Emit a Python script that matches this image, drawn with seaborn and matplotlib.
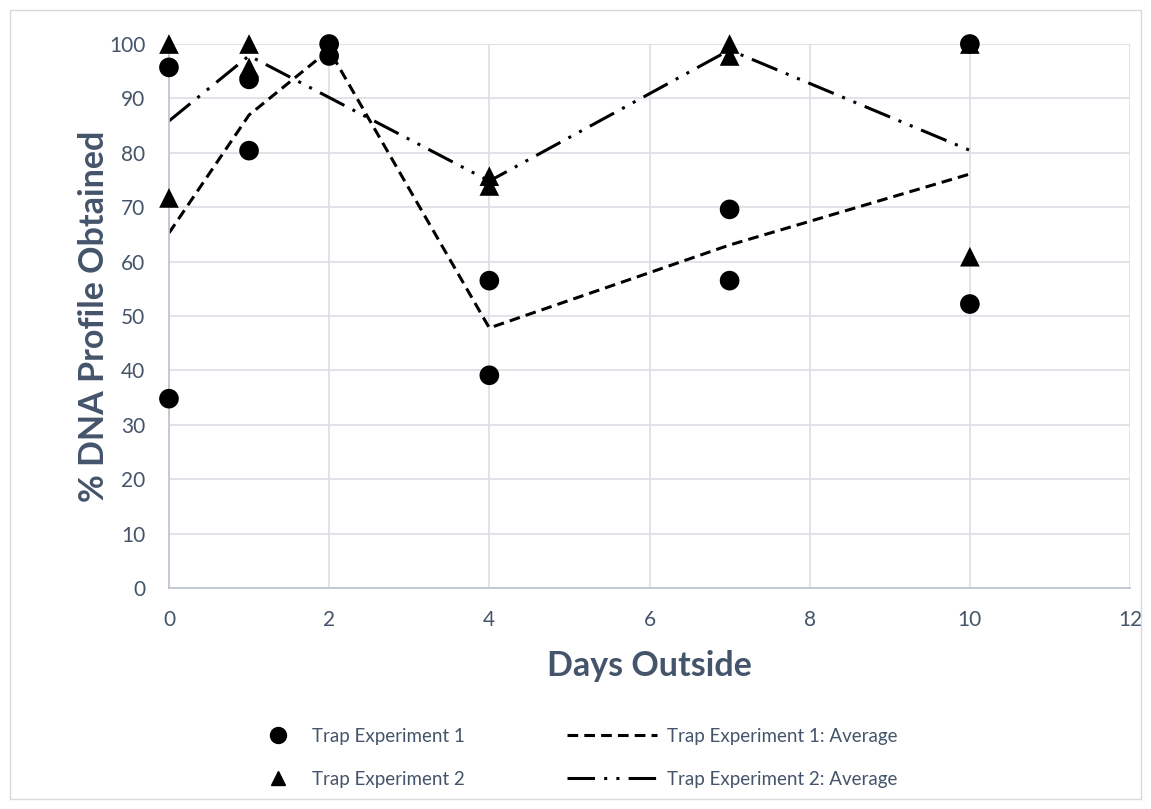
import pandas as pd
import matplotlib.pyplot as plt
import seaborn as sns
from matplotlib.lines import Line2D
from matplotlib.patches import Rectangle

# trap experiment readings (% DNA profile obtained), two samples per day
days_exp1 = [0, 0, 1, 1, 2, 2, 4, 4, 7, 7, 10, 10]
vals_exp1 = [95.7, 34.8, 93.5, 80.4, 100, 97.8, 56.5, 39.1, 69.6, 56.5, 100, 52.2]

days_exp2 = [0, 0, 1, 1, 4, 4, 7, 7, 10, 10]
vals_exp2 = [100, 71.7, 100, 95.7, 75.7, 73.9, 100, 97.8, 100, 60.9]

x_ticks = [0, 2, 4, 6, 8, 10, 12]
y_ticks = [0, 10, 20, 30, 40, 50, 60, 70, 80, 90, 100]

text_col = '#44546A'
grid_col = '#DDE1E6'

df1 = pd.DataFrame({'days': days_exp1, 'profile': vals_exp1})
df2 = pd.DataFrame({'days': days_exp2, 'profile': vals_exp2})

sns.set_style('white')
plt.rcParams['font.family'] = ['Lato', 'DejaVu Sans']

fig = plt.figure(figsize=(11.51, 8.09), dpi=100)
ax = fig.add_axes([0.1468, 0.2732, 0.835, 0.6724])

dash1 = (3.5, 2)
dash2 = (9, 3, 1, 3, 1, 3)

# averages per day, drawn by seaborn's mean estimator
sns.lineplot(data=df1, x='days', y='profile', estimator='mean', errorbar=None,
             ax=ax, color='black', linewidth=2.2, dashes=False, zorder=2)
sns.lineplot(data=df2, x='days', y='profile', estimator='mean', errorbar=None,
             ax=ax, color='black', linewidth=2.2, dashes=False, zorder=2)
ax.lines[0].set_dashes(dash1)
ax.lines[1].set_dashes(dash2)

sns.scatterplot(data=df1, x='days', y='profile', ax=ax, marker='o', s=200,
                color='black', edgecolor='none', zorder=3, clip_on=False)
sns.scatterplot(data=df2, x='days', y='profile', ax=ax, marker='^', s=200,
                color='black', edgecolor='none', zorder=3, clip_on=False)

ax.set_xlim(0, 12)
ax.set_ylim(0, 100)
ax.set_xticks(x_ticks)
ax.set_yticks(y_ticks)
ax.grid(True, color=grid_col, linewidth=1.3)
ax.set_axisbelow(True)
for s in ['top', 'right']:
    ax.spines[s].set_visible(False)
for s in ['left', 'bottom']:
    ax.spines[s].set_color('#BFC6D0')
    ax.spines[s].set_linewidth(1.3)
ax.tick_params(axis='both', length=0, labelsize=15, colors=text_col)
ax.tick_params(axis='y', pad=17)
ax.tick_params(axis='x', pad=16)
ax.set_xlabel('Days Outside', fontsize=24.5, fontweight='bold', color=text_col, labelpad=14)
ax.set_ylabel('% DNA Profile Obtained', fontsize=24.5, fontweight='bold', color=text_col, labelpad=-1)

# legends: markers on the left column, average lines on the right
mk_handles = [Line2D([], [], marker='o', color='black', linestyle='none', markersize=11.5),
              Line2D([], [], marker='^', color='black', linestyle='none', markersize=9.5)]
leg1 = fig.legend(mk_handles, ['Trap Experiment 1', 'Trap Experiment 2'],
                  loc='center left', bbox_to_anchor=(0.2337, 0.0635), frameon=False,
                  fontsize=13.5, labelcolor=text_col, handlelength=1, handletextpad=1.3,
                  labelspacing=1.4, borderpad=0, borderaxespad=0)
ln_handles = [Line2D([], [], color='black', linewidth=2.2, dashes=dash1),
              Line2D([], [], color='black', linewidth=2.2, dashes=dash2)]
leg2 = fig.legend(ln_handles, ['Trap Experiment 1: Average', 'Trap Experiment 2: Average'],
                  loc='center left', bbox_to_anchor=(0.4926, 0.0635), frameon=False,
                  fontsize=13.5, labelcolor=text_col, handlelength=4.8, handletextpad=0.55,
                  labelspacing=1.4, borderpad=0, borderaxespad=0)

fig.patches.append(Rectangle((0.009, 0.012), 0.982, 0.976, transform=fig.transFigure,
                             fill=False, edgecolor='#D9D9D9', linewidth=1))

fig.savefig('out.png', dpi=100)
